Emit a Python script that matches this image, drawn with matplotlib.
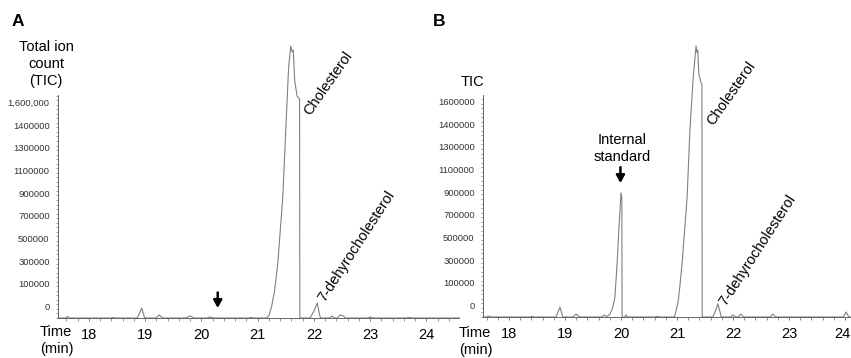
import numpy as np
import matplotlib
matplotlib.use('Agg')
import matplotlib.pyplot as plt
import matplotlib.transforms as mtransforms
from matplotlib.ticker import MultipleLocator

plt.rcParams['font.family'] = ['Liberation Sans', 'DejaVu Sans']

# chromatogram A (time in min, total ion count)
time_a = [17.45, 17.58, 17.62, 17.66, 18.40, 18.43, 18.46, 18.86, 18.94, 18.99,
          19.19, 19.25, 19.31, 19.72, 19.80, 19.87, 20.10, 20.15, 20.22,
          20.85, 20.88, 20.92, 21.16, 21.20, 21.25, 21.30, 21.357, 21.446,
          21.499, 21.55, 21.588, 21.615, 21.633, 21.66, 21.70, 21.745, 21.75,
          21.93, 22.00, 22.06, 22.10, 22.12, 22.28, 22.32, 22.36, 22.42,
          22.46, 22.52, 22.56, 22.95, 23.00, 23.05, 23.65, 23.70, 23.75, 24.58]
tic_a = [0, 0, 12000, 0, 0, 5000, 0, 0, 88000, 0,
         0, 26000, 0, 0, 18000, 0, 0, 9000, 0,
         0, 5000, 0, 0, 20000, 106000, 238000, 476000, 1057000,
         1648000, 2203000, 2396000, 2344000, 2361000, 2088000, 1956000, 1930000, 0,
         0, 60000, 132000, 30000, 0, 0, 18000, 0, 0,
         26000, 20000, 0, 0, 9000, 0, 0, 5000, 0, 0]

# chromatogram B (with internal standard)
time_b = [17.54, 17.60, 17.64, 17.68, 18.37, 18.41, 18.45, 18.84, 18.91, 18.96,
          19.14, 19.20, 19.26, 19.66, 19.70, 19.74, 19.77, 19.80, 19.85, 19.89,
          19.93, 19.96, 20.00, 20.015, 20.02, 20.07, 20.09, 20.12, 20.60, 20.65,
          20.70, 20.93, 20.96, 21.02, 21.05, 21.09, 21.18, 21.23, 21.29, 21.34,
          21.36, 21.37, 21.39, 21.43, 21.445, 21.45, 21.64, 21.70, 21.73, 21.77,
          21.79, 21.96, 22.00, 22.04, 22.09, 22.14, 22.19, 22.66, 22.71, 22.76,
          23.97, 24.02, 24.07, 24.107]
tic_b = [0, 0, 9000, 0, 0, 5000, 0, 0, 88000, 0,
         0, 26000, 0, 0, 18000, 5000, 10000, 25000, 80000, 167000,
         467000, 758000, 1093000, 1050000, 0, 0, 18000, 0, 0, 5000,
         0, 0, 8000, 132000, 264000, 467000, 1048000, 1639000, 2115000, 2388000,
         2330000, 2350000, 2141000, 2062000, 2050000, 0, 0, 70000, 115000, 40000,
         0, 0, 18000, 0, 0, 26000, 0, 0, 26000, 0,
         0, 44000, 0, 0]

xticks = [18, 19, 20, 21, 22, 23, 24]
ytick_pos = [100000 + 200000 * k for k in range(10)]
ylabels_a = ['0', '100000', '300000', '500000', '700000', '900000',
             '1100000', '1300000', '1400000', '1,600,000']
ylabels_b = ['0', '100000', '300000', '500000', '700000', '900000',
             '1100000', '1300000', '1400000', '1600000']

W, H = 851, 358
fig = plt.figure(figsize=(W / 100, H / 100), dpi=100)

def fx(px):
    return px / W

def fy(py):
    return 1 - py / H

axA = fig.add_axes([fx(58), fy(318), fx(459 - 58), (318 - 95) / H])
axB = fig.add_axes([fx(483), fy(317), fx(851 - 483), (317 - 95) / H])

line_col = '#808080'
for ax, t, y, xl, ylab, ytop in [(axA, time_a, tic_a, (17.45, 24.58), ylabels_a, 1965000),
                                 (axB, time_b, tic_b, (17.536, 24.107), ylabels_b, 1956000)]:
    ax.plot(t, y, color=line_col, lw=0.8, clip_on=False)
    ax.set_xlim(*xl)
    ax.set_ylim(0, ytop)
    for s in ['top', 'right']:
        ax.spines[s].set_visible(False)
    for s in ['left', 'bottom']:
        ax.spines[s].set_color('#666666')
        ax.spines[s].set_linewidth(0.7)
    ax.set_xticks(xticks)
    ax.set_xticklabels([str(v) for v in xticks], fontsize=10.5)
    ax.set_yticks(ytick_pos)
    ax.set_yticklabels(ylab, fontsize=6.8, color='#333333')
    ax.xaxis.set_minor_locator(MultipleLocator(0.2))
    ax.yaxis.set_minor_locator(MultipleLocator(40000))
    ax.tick_params(axis='x', which='major', length=2.5, width=0.6, color='#666666', pad=5)
    ax.tick_params(axis='x', which='minor', length=2, width=0.5, color='#666666')
    ax.tick_params(axis='y', which='major', length=0, pad=6)
    ax.tick_params(axis='y', which='minor', length=1.5, width=0.5, color='#777777')
    ax.patch.set_alpha(0)

# last tick label of panel B sits right at the figure edge: keep it inside
lab24 = axB.get_xticklabels()[-1]
lab24.set_horizontalalignment('right')
lab24.set_transform(lab24.get_transform() +
                    mtransforms.ScaledTranslation(5.5 / 100, 0, fig.dpi_scale_trans))

# panel A annotations
axA.text(21.98, 1765000, 'Cholesterol', rotation=55, rotation_mode='anchor',
         ha='left', va='bottom', fontsize=10.5)
axA.text(22.24, 125000, '7-dehyrocholesterol', rotation=57, rotation_mode='anchor',
         ha='left', va='bottom', fontsize=10.5)
axA.annotate('', xy=(20.29, 88000), xytext=(20.29, 225000),
             arrowprops=dict(arrowstyle='-|>,head_width=0.25,head_length=0.45',
                             lw=1.8, color='black', shrinkA=0, shrinkB=0))

# panel B annotations
axB.text(21.70, 1665000, 'Cholesterol', rotation=55, rotation_mode='anchor',
         ha='left', va='bottom', fontsize=10.5)
axB.text(21.92, 80000, '7-dehyrocholesterol', rotation=57, rotation_mode='anchor',
         ha='left', va='bottom', fontsize=10.5)
axB.text(20.02, 1485000, 'Internal\nstandard', ha='center', va='center',
         fontsize=10.5, linespacing=1.25)
axB.annotate('', xy=(19.99, 1180000), xytext=(19.99, 1320000),
             arrowprops=dict(arrowstyle='-|>,head_width=0.25,head_length=0.45',
                             lw=1.8, color='black', shrinkA=0, shrinkB=0))

# labels around the axes
fig.text(fx(12), fy(21), 'A', fontsize=12.5, fontweight='bold', ha='left', va='center')
fig.text(fx(433), fy(21), 'B', fontsize=12.5, fontweight='bold', ha='left', va='center')
fig.text(fx(46), fy(64), 'Total ion\ncount\n(TIC)', fontsize=10.5, ha='center',
         va='center', linespacing=1.3)
fig.text(fx(484), fy(82), 'TIC', fontsize=10.5, ha='right', va='center')
fig.text(fx(40), fy(332), 'Time', fontsize=10.5, ha='left', va='center')
fig.text(fx(40), fy(349), '(min)', fontsize=10.5, ha='left', va='center')
fig.text(fx(459), fy(333), 'Time', fontsize=10.5, ha='left', va='center')
fig.text(fx(459), fy(350), '(min)', fontsize=10.5, ha='left', va='center')

fig.savefig('out.png', dpi=100)
